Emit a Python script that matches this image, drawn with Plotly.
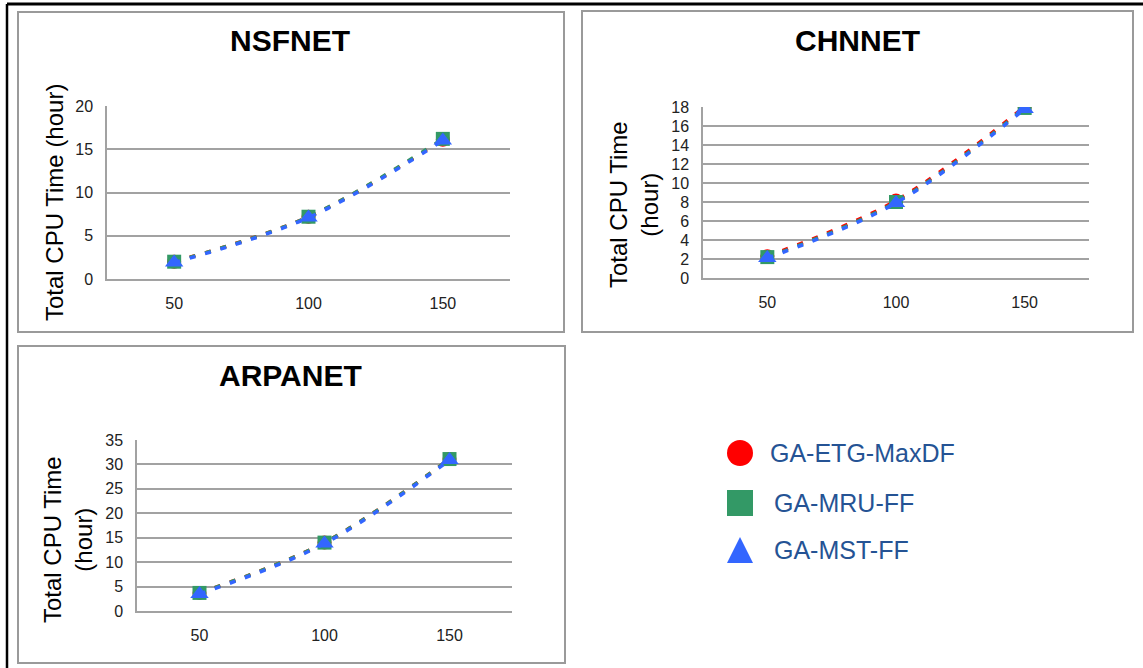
import plotly.graph_objects as go

W, H = 1143, 668

# ---- data ----
node_counts = ["50", "100", "150"]
series_names = ["GA-ETG-MaxDF", "GA-MRU-FF", "GA-MST-FF"]

nsfnet_etg = [2.0, 7.2, 16.1]
nsfnet_mru = [2.0, 7.2, 16.2]
nsfnet_mst = [1.9, 7.1, 16.0]

chnnet_etg = [2.3, 8.15, 18.05]
chnnet_mru = [2.2, 8.0, 17.9]
chnnet_mst = [2.1, 7.9, 17.8]

arpanet_etg = [3.7, 14.0, 31.1]
arpanet_mru = [3.7, 14.0, 31.1]
arpanet_mst = [3.5, 13.8, 30.9]

# ---- styling ----
colors = ["#ff0000", "#339966", "#3366ff"]
symbols = ["circle", "square", "triangle-up"]
marker_sizes = [14, 14, 16]
FONT = "Arial, Liberation Sans, sans-serif"
GRID = "#a2a2a2"
LEGEND_TEXT = "#255394"


def px(x):
    return x / W


def py(y):
    return 1 - y / H


panels = [
    dict(title="NSFNET", data=[nsfnet_etg, nsfnet_mru, nsfnet_mst],
         ymax=20, dtick=5, xdom=(107, 510), ydom=(106, 279),
         frame=(18, 12, 564, 332), title_xy=(290, 40),
         ytitle="Total CPU Time (hour)", ytitle_xy=(54, 203)),
    dict(title="CHNNET", data=[chnnet_etg, chnnet_mru, chnnet_mst],
         ymax=18, dtick=2, xdom=(703, 1089), ydom=(107, 278),
         frame=(582, 11, 1133, 332), title_xy=(857, 40),
         ytitle="Total CPU Time<br>(hour)", ytitle_xy=(634, 205)),
    dict(title="ARPANET", data=[arpanet_etg, arpanet_mru, arpanet_mst],
         ymax=35, dtick=5, xdom=(137, 512), ydom=(440, 611),
         frame=(18, 346, 565, 663), title_xy=(290, 375),
         ytitle="Total CPU Time<br>(hour)", ytitle_xy=(68, 540)),
]

fig = go.Figure()
shapes = []
annotations = []
layout_axes = {}

for i, p in enumerate(panels, start=1):
    xa = "x" if i == 1 else f"x{i}"
    ya = "y" if i == 1 else f"y{i}"
    for vals, name, c, sym, ms in zip(p["data"], series_names, colors, symbols, marker_sizes):
        fig.add_trace(go.Scatter(
            x=node_counts, y=vals, name=name, xaxis=xa, yaxis=ya,
            mode="lines+markers", showlegend=False,
            line=dict(color=c, width=3.5, dash="6px,10px", shape="spline", smoothing=1),
            marker=dict(symbol=sym, size=ms, color=c, line=dict(width=0)),
        ))
    xkey = "xaxis" if i == 1 else f"xaxis{i}"
    ykey = "yaxis" if i == 1 else f"yaxis{i}"
    layout_axes[xkey] = dict(
        domain=[px(p["xdom"][0]), px(p["xdom"][1])], anchor=ya,
        type="category", range=[-0.5, 2.5], showgrid=False,
        showline=True, linecolor=GRID, linewidth=1.5,
        ticks="outside", ticklen=9, tickcolor="rgba(0,0,0,0)",
        tickfont=dict(family=FONT, size=16, color="#222222"),
        zeroline=False, fixedrange=True, automargin=False,
    )
    layout_axes[ykey] = dict(
        domain=[py(p["ydom"][1]), py(p["ydom"][0])], anchor=xa,
        range=[0, p["ymax"]], dtick=p["dtick"], tick0=0,
        showgrid=True, gridcolor=GRID, gridwidth=1.5,
        showline=True, linecolor=GRID, linewidth=1.5,
        ticks="outside", ticklen=9, tickcolor="rgba(0,0,0,0)",
        tickfont=dict(family=FONT, size=16, color="#222222"),
        zeroline=False, fixedrange=True, automargin=False,
    )
    x0, y0, x1, y1 = p["frame"]
    shapes.append(dict(type="rect", xref="paper", yref="paper",
                       x0=px(x0), x1=px(x1), y0=py(y1), y1=py(y0),
                       line=dict(color="#9a9a9a", width=2), layer="below"))
    annotations.append(dict(text=f"<b>{p['title']}</b>", xref="paper", yref="paper",
                            x=px(p["title_xy"][0]), y=py(p["title_xy"][1]),
                            xanchor="center", yanchor="middle", showarrow=False,
                            font=dict(family=FONT, size=30, color="#000000")))
    annotations.append(dict(text=p["ytitle"], xref="paper", yref="paper",
                            x=px(p["ytitle_xy"][0]), y=py(p["ytitle_xy"][1]),
                            xanchor="center", yanchor="middle", showarrow=False,
                            textangle=-90,
                            font=dict(family=FONT, size=24, color="#000000")))

# outer black frame (top and left edges)
shapes.append(dict(type="line", xref="paper", yref="paper",
                   x0=px(7), x1=1, y0=py(4), y1=py(4),
                   line=dict(color="#000000", width=3)))
shapes.append(dict(type="line", xref="paper", yref="paper",
                   x0=px(7), x1=px(7), y0=py(4), y1=0,
                   line=dict(color="#000000", width=2.5)))

# legend: symbol glyphs and labels
legend_rows = [453, 503, 550]
sym_cx, half = 740, 13
for name, c, sym, ry in zip(series_names, colors, symbols, legend_rows):
    if sym == "circle":
        shapes.append(dict(type="circle", xref="paper", yref="paper",
                           x0=px(sym_cx - half), x1=px(sym_cx + half),
                           y0=py(ry + half), y1=py(ry - half),
                           fillcolor=c, line=dict(width=0)))
    elif sym == "square":
        shapes.append(dict(type="rect", xref="paper", yref="paper",
                           x0=px(sym_cx - half), x1=px(sym_cx + half),
                           y0=py(ry + half), y1=py(ry - half),
                           fillcolor=c, line=dict(width=0)))
    else:
        path = (f"M {px(sym_cx - half)},{py(ry + half)} "
                f"L {px(sym_cx + half)},{py(ry + half)} "
                f"L {px(sym_cx)},{py(ry - half)} Z")
        shapes.append(dict(type="path", xref="paper", yref="paper", path=path,
                           fillcolor=c, line=dict(width=0)))
    annotations.append(dict(text=name, xref="paper", yref="paper",
                            x=px(768 if sym == "circle" else 772), y=py(ry),
                            xanchor="left", yanchor="middle", showarrow=False,
                            font=dict(family=FONT, size=25, color=LEGEND_TEXT)))

fig.update_layout(
    width=W, height=H, autosize=False,
    margin=dict(l=0, r=0, t=0, b=0, pad=0, autoexpand=False),
    paper_bgcolor="white", plot_bgcolor="white",
    showlegend=False,
    shapes=shapes, annotations=annotations,
    **layout_axes,
)

fig.write_html("out.html", config={"displayModeBar": False})
